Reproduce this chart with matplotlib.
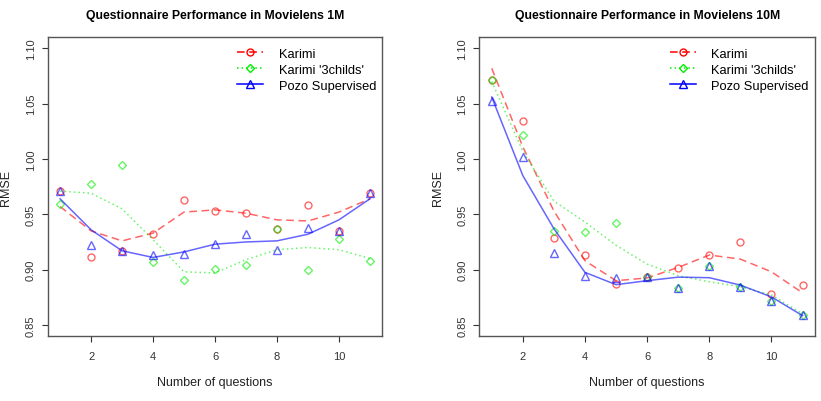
import matplotlib
matplotlib.use('Agg')
import matplotlib.pyplot as plt

plt.rcParams['font.family'] = ['Liberation Sans', 'DejaVu Sans']

questions = [1, 2, 3, 4, 5, 6, 7, 8, 9, 10, 11]
series_names = ['Karimi', "Karimi '3childs'", 'Pozo Supervised']

# Movielens 1M: observed points
ml1m_karimi = [0.971, 0.911, 0.917, 0.932, 0.963, 0.953, 0.951, 0.937, 0.958, 0.935, 0.969]
ml1m_3childs = [0.959, 0.977, 0.995, 0.907, 0.891, 0.901, 0.904, 0.937, 0.900, 0.928, 0.908]
ml1m_pozo = [0.971, 0.922, 0.917, 0.913, 0.914, 0.923, 0.932, 0.918, 0.938, 0.935, 0.969]
# Movielens 1M: smoothed curves
ml1m_karimi_fit = [0.957, 0.935, 0.926, 0.933, 0.952, 0.954, 0.951, 0.945, 0.944, 0.952, 0.964]
ml1m_3childs_fit = [0.971, 0.969, 0.955, 0.927, 0.898, 0.897, 0.909, 0.918, 0.920, 0.918, 0.910]
ml1m_pozo_fit = [0.964, 0.936, 0.917, 0.911, 0.916, 0.923, 0.925, 0.926, 0.932, 0.945, 0.964]

# Movielens 10M: observed points
ml10m_karimi = [1.0715, 1.0348, 0.929, 0.9134, 0.8866, 0.893, 0.9012, 0.9135, 0.9254, 0.8783, 0.8858]
ml10m_3childs = [1.0715, 1.0213, 0.9345, 0.9341, 0.9421, 0.893, 0.8838, 0.9037, 0.8845, 0.8714, 0.8587]
ml10m_pozo = [1.0528, 1.0018, 0.9148, 0.8946, 0.892, 0.893, 0.8838, 0.9037, 0.8845, 0.8714, 0.8587]
# Movielens 10M: smoothed curves
ml10m_karimi_fit = [1.082, 1.011, 0.953, 0.908, 0.890, 0.8925, 0.902, 0.9132, 0.9095, 0.898, 0.879]
ml10m_3childs_fit = [1.070, 1.007, 0.962, 0.943, 0.922, 0.905, 0.8945, 0.889, 0.8846, 0.877, 0.860]
ml10m_pozo_fit = [1.056, 0.985, 0.937, 0.8975, 0.8864, 0.890, 0.8932, 0.8927, 0.886, 0.8753, 0.8584]

colors = ['#ff0000', '#00ee00', '#0000ff']
markers = ['o', 'D', '^']
msizes = [5, 4.2, 6]
styles = [(0, (5, 3)), (0, (1, 2)), '-']

fig = plt.figure(figsize=(8.21, 4.02), dpi=100)
ax1 = fig.add_axes([0.0581, 0.1617, 0.4076, 0.743])
ax2 = fig.add_axes([0.5838, 0.1617, 0.4089, 0.743])

panels = [
    (ax1, 'Questionnaire Performance in Movielens 1M',
     [ml1m_karimi, ml1m_3childs, ml1m_pozo],
     [ml1m_karimi_fit, ml1m_3childs_fit, ml1m_pozo_fit]),
    (ax2, 'Questionnaire Performance in Movielens 10M',
     [ml10m_karimi, ml10m_3childs, ml10m_pozo],
     [ml10m_karimi_fit, ml10m_3childs_fit, ml10m_pozo_fit]),
]

for ax, title, points, fits in panels:
    for i in range(3):
        ax.plot(questions, fits[i], color=colors[i], alpha=0.6, lw=1.1, linestyle=styles[i])
        ax.plot(questions, points[i], linestyle='none', marker=markers[i], ms=msizes[i],
                mfc='none', mec=colors[i], mew=1.0, alpha=0.6)
    # legend handles: line + marker
    handles = [plt.Line2D([], [], color=colors[i], linestyle=styles[i], lw=1.1,
                          marker=markers[i], ms=msizes[i], mfc='none', mec=colors[i])
               for i in range(3)]
    ax.legend(handles, series_names, loc='upper right', frameon=False, fontsize=9.3,
              handlelength=2.0, handletextpad=1.2, labelspacing=0.3,
              borderaxespad=0.0, bbox_to_anchor=(0.997, 0.982))
    ax.set_xlim(0.6, 11.4)
    ax.set_ylim(0.84, 1.11)
    ax.set_xticks([2, 4, 6, 8, 10])
    ax.set_yticks([0.85, 0.90, 0.95, 1.00, 1.05, 1.10])
    ax.set_yticklabels(['0.85', '0.90', '0.95', '1.00', '1.05', '1.10'],
                       rotation=90, va='center')
    ax.tick_params(direction='out', length=4.5, width=0.8, color='#333333',
                   labelsize=8, labelcolor='#333333')
    ax.tick_params(axis='x', pad=6)
    ax.tick_params(axis='y', pad=4)
    for s in ax.spines.values():
        s.set_color('#555555')
        s.set_linewidth(1.0)
    ax.set_title(title, fontsize=8.8, fontweight='bold', pad=14)
    ax.set_xlabel('Number of questions', fontsize=9, labelpad=11, color='#222222')
    ax.set_ylabel('RMSE', fontsize=9, labelpad=10, color='#222222')

fig.savefig('out.png', dpi=100)
